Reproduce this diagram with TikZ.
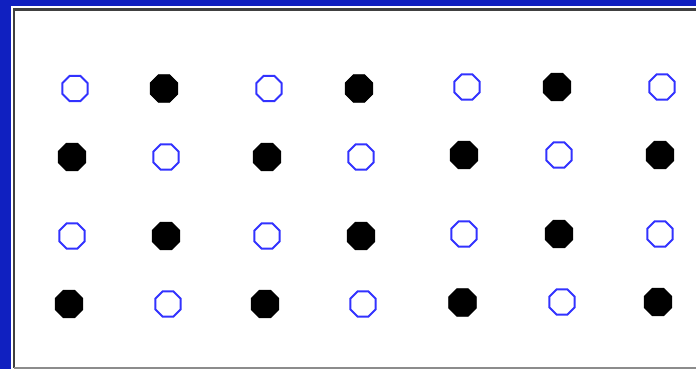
\documentclass[tikz,border=0pt]{standalone}
\usetikzlibrary{shapes.geometric}
\definecolor{bgblue}{RGB}{16,32,192}
\definecolor{dotblue}{RGB}{50,50,255}
\tikzset{
  openpt/.style={regular polygon, regular polygon sides=8, draw=dotblue, line width=2pt, fill=white, minimum size=27.5pt, inner sep=0pt},
  fullpt/.style={regular polygon, regular polygon sides=8, fill=black, draw=black, line width=0.5pt, minimum size=30pt, inner sep=0pt},
}
\begin{document}
\begin{tikzpicture}[x=1pt,y=-1pt]
\useasboundingbox (0,0) rectangle (696,369);
\fill[bgblue] (0,0) rectangle (696,369);
\fill[white] (11,6) rectangle (696,369);
\draw[black!75, line width=2.5pt] (14,368) -- (14,9.5) -- (696,9.5);
\draw[black!45, line width=1.5pt] (14,368) -- (696,368);
% row 1
\node[openpt] (a1) at (75,88.5) {};
\node[fullpt] (a2) at (164,88.5) {};
\node[openpt] (a3) at (269,88.5) {};
\node[fullpt] (a4) at (359,88.5) {};
\node[openpt] (a5) at (467,87) {};
\node[fullpt] (a6) at (557,87) {};
\node[openpt] (a7) at (662,87) {};
% row 2
\node[fullpt] (b1) at (72,157) {};
\node[openpt] (b2) at (166,157) {};
\node[fullpt] (b3) at (267,157) {};
\node[openpt] (b4) at (361,157) {};
\node[fullpt] (b5) at (464,155) {};
\node[openpt] (b6) at (559,155) {};
\node[fullpt] (b7) at (660,155) {};
% row 3
\node[openpt] (c1) at (72,236) {};
\node[fullpt] (c2) at (166,236) {};
\node[openpt] (c3) at (267,236) {};
\node[fullpt] (c4) at (361,236) {};
\node[openpt] (c5) at (464,234) {};
\node[fullpt] (c6) at (559,234) {};
\node[openpt] (c7) at (660,234) {};
% row 4
\node[fullpt] (d1) at (69,304) {};
\node[openpt] (d2) at (168,304) {};
\node[fullpt] (d3) at (265,304) {};
\node[openpt] (d4) at (363,304) {};
\node[fullpt] (d5) at (462.5,302.5) {};
\node[openpt] (d6) at (562,302) {};
\node[fullpt] (d7) at (658,302) {};
\end{tikzpicture}
\end{document}
